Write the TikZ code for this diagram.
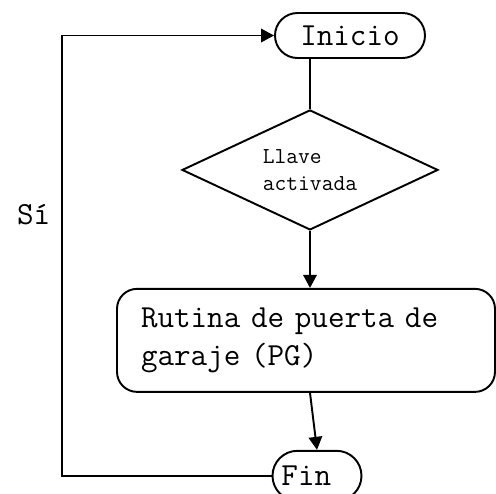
\documentclass[tikz,border=0pt]{standalone}
\usepackage{fontspec}
\usepackage{tikz}
\usetikzlibrary{arrows.meta,positioning,shapes.geometric}

\begin{document}
\begin{tikzpicture}[line width=1.1pt,font=\ttfamily\fontsize{18.3}{22}\selectfont,
  flecha/.style={-{Triangle[length=0.26cm,width=0.27cm]}}]
  \useasboundingbox (0,0) rectangle (9.92,-9.86);
  \node[draw,rounded corners=0.45cm,minimum width=3cm,minimum height=0.9cm] (inicio) at (7.0,-0.71) {Inicio};
  \node[draw,diamond,aspect=2.13,inner sep=0pt,minimum width=5.12cm,minimum height=2.4cm,align=left,font=\ttfamily\fontsize{13}{15.4}\selectfont,below=1.0cm of inicio,xshift=-0.8cm] (llave) {Llave\\activada};
  \node[draw,rounded corners=0.4cm,minimum width=7.56cm,minimum height=2.06cm,text width=6.6cm,align=left,below=1.14cm of llave,xshift=-0.08cm] (rutina) {Rutina de puerta de\\garaje (PG)};
  \node[draw,rounded corners=0.5cm,minimum width=1.78cm,minimum height=1.0cm,text width=1.42cm,inner xsep=0pt,align=left,below=1.14cm of rutina,xshift=0.22cm] (fin) {Fin};
  \coordinate (lazo) at (1.24,-4.3);
  \node[left=0.1cm of lazo] (si) {Sí};
  \draw (inicio.south -| llave.north) -- (llave.north);
  \draw[flecha] (llave.south) -- (llave.south |- rutina.north);
  \draw[flecha] (rutina.south -| llave.south) -- (fin.north);
  \draw[flecha] (fin.west) -| (lazo) |- (inicio.west);
\end{tikzpicture}
\end{document}
